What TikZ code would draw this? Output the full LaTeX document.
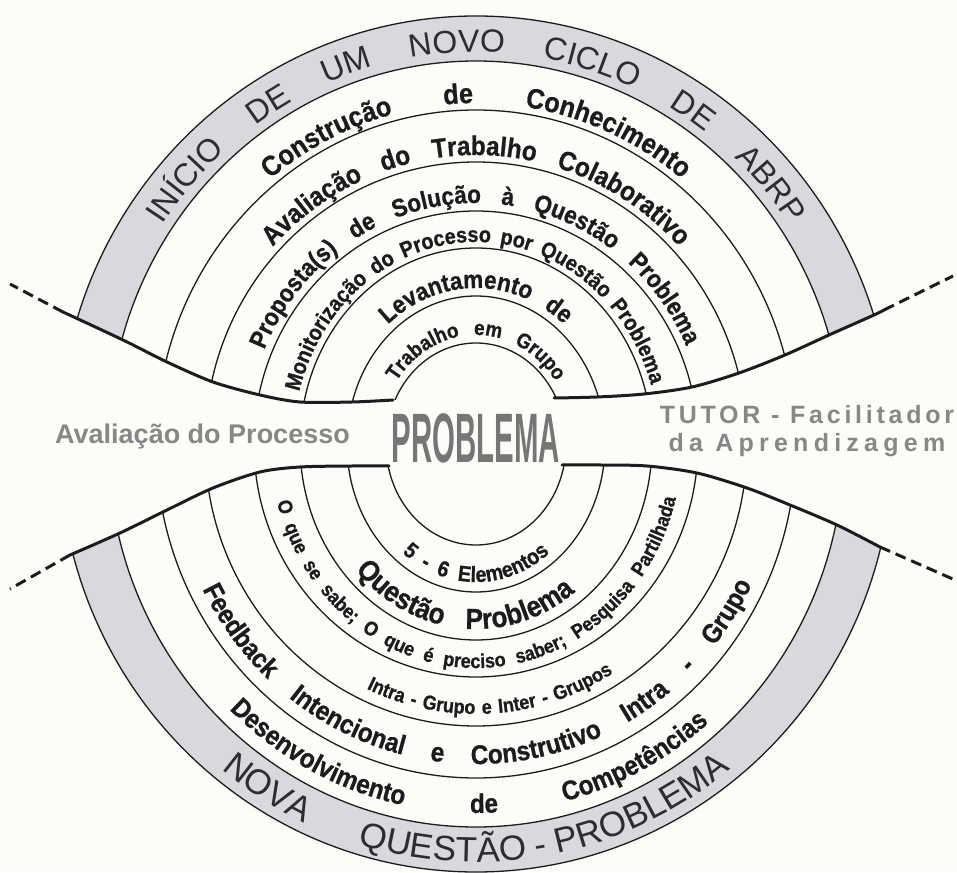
\documentclass[tikz,border=0pt]{standalone}
\usepackage{fontspec}
\usetikzlibrary{decorations.text}
\setmainfont{Liberation Sans}
\newfontfamily\outerfont{Liberation Sans}
\newfontfamily\ringfont[FakeStretch=0.9,FakeBold=0.8]{Liberation Sans}
\newfontfamily\tutorfontA[LetterSpace=15]{Liberation Sans}
\newfontfamily\tutorfontB[LetterSpace=21]{Liberation Sans}
\newfontfamily\probfont[FakeStretch=0.42]{Liberation Sans}
\definecolor{bgc}{RGB}{252,252,248}
\definecolor{band}{RGB}{217,217,221}
\definecolor{ink}{RGB}{28,28,30}
\definecolor{outink}{RGB}{45,45,48}
\definecolor{midgray}{RGB}{135,135,135}
\definecolor{probgray}{RGB}{118,118,118}

\newcommand{\fitarc}[6]{%
  \path[decorate,decoration={text along path,text align={fit to path stretching spaces},text color=ink,text={|#5|#6}}]
    ({#3*cos(#1)},{#4*sin(#1)}) arc[start angle=#1,end angle=#2,x radius=#3,y radius=#4];}
\newcommand{\centerarc}[6]{%
  \path[decorate,decoration={text along path,text align=center,text color=ink,text={|#5|#6}}]
    ({#3*cos(#1)},{#4*sin(#1)}) arc[start angle=#1,end angle=#2,x radius=#3,y radius=#4];}
\newcommand{\ringset}{%
  \fill[band,even odd rule] (0,0) ellipse[x radius=417,y radius=428] (0,0) ellipse[x radius=368,y radius=383];
  \foreach \ra/\rb in {417/428,368/383,320/334,271/282,222/233,176/196,129/148,90/101}{%
    \draw[ring] (0,0) ellipse[x radius=\ra,y radius=\rb];}}
\newcommand{\outerfs}[1]{\color{outink}\outerfont\fontsize{#1}{#1}\selectfont}
\newcommand{\bfs}[1]{\ringfont\bfseries\fontsize{#1}{#1}\selectfont}

\begin{document}
\begin{tikzpicture}[x=1pt,y=1pt,
  ring/.style={line width=1.3pt,draw=ink},
  cutline/.style={line width=3pt,draw=ink,line cap=round},
  cutdash/.style={line width=3pt,draw=ink,dash pattern=on 11pt off 6pt},
  midtext/.style={inner sep=0pt,text=midgray}]
\fill[bgc] (-476,-428) rectangle (481,444);
\useasboundingbox (-476,-428) rectangle (481,444);

% upper half rings
\begin{scope}
  \clip (-490,450) -- (-490,176) -- plot[smooth] coordinates {(-413,132) (-353,104) (-309,82) (-263,62) (-216,49) (-176,42) (-124,42) (-83,44)}
        -- plot[smooth] coordinates {(78,46) (121,47) (168,50) (216,57) (263,71) (309,89) (353,109) (398,129) (408,134)}
        -- (490,178) -- (490,450) -- cycle;
  \ringset
\end{scope}
% lower half rings
\begin{scope}
  \clip (-490,-450) -- (-490,-158) -- plot[smooth] coordinates {(-406,-111) (-356,-89) (-309,-66) (-263,-44) (-216,-28) (-176,-23) (-124,-22) (-87,-22)}
        -- plot[smooth] coordinates {(86,-21) (125,-21) (171,-22) (221,-29) (271,-44) (314,-61) (361,-81) (404,-103)}
        -- (490,-140) -- (490,-450) -- cycle;
  \ringset
\end{scope}

% cut lines
\coordinate (ulEnd) at (-413,132);
\coordinate (ulFar) at (-466,160);
\coordinate (urEnd) at (408,134);
\coordinate (urFar) at (477,168);
\coordinate (llEnd) at (-406,-111);
\coordinate (llFar) at (-466,-145);
\coordinate (lrEnd) at (404,-103);
\coordinate (lrFar) at (479,-136);
\draw[cutline] plot[smooth] coordinates {(-413,132) (-353,104) (-309,82) (-263,62) (-216,49) (-176,42) (-124,42) (-83,44)};
\draw[cutline] plot[smooth] coordinates {(78,46) (121,47) (168,50) (216,57) (263,71) (309,89) (353,109) (398,129) (408,134)};
\draw[cutline] plot[smooth] coordinates {(-406,-111) (-356,-89) (-309,-66) (-263,-44) (-216,-28) (-176,-23) (-124,-22) (-87,-22)};
\draw[cutline] plot[smooth] coordinates {(86,-21) (125,-21) (171,-22) (221,-29) (271,-44) (314,-61) (361,-81) (404,-103)};
\draw[cutdash] (ulEnd) -- (ulFar);
\draw[cutdash] (urEnd) -- (urFar);
\draw[cutdash] (llEnd) -- (llFar);
\draw[cutdash] (lrEnd) -- (lrFar);

% upper ring texts
\fitarc{146}{34}{378}{392}{\outerfs{32}}{INÍCIO DE UM NOVO CICLO DE ABRP}
\fitarc{129}{51}{327}{341}{\bfs{28}}{Construção de Conhecimento}
\fitarc{137}{43}{278}{289}{\bfs{27}}{Avaliação do Trabalho Colaborativo}
\fitarc{157}{24}{230}{241}{\bfs{25}}{Proposta(s) de Solução à Questão Problema}
\fitarc{165}{17}{183}{202}{\bfs{22}}{Monitorização do Processo por Questão Problema}
\fitarc{130}{50}{137}{156}{\bfs{25}}{Levantamento de}
\fitarc{145}{35}{97}{109}{\bfs{21}}{Trabalho em Grupo}

% lower ring texts
\centerarc{225}{251}{405}{418}{\outerfs{35}}{NOVA}
\centerarc{248}{314}{405}{418}{\outerfs{35}}{QUESTÃO - PROBLEMA}
\fitarc{226}{311}{355}{369}{\bfs{27}}{Desenvolvimento de Competências}
\fitarc{207}{334}{307}{320}{\bfs{27}}{Feedback Intencional e Construtivo Intra - Grupo}
\fitarc{245}{302}{259}{270}{\bfs{20}}{Intra - Grupo e Inter - Grupos}
\fitarc{195}{346}{206}{224}{\bfs{20}}{O que se sabe; O que é preciso saber; Pesquisa Partilhada}
\fitarc{223}{307}{165}{185}{\bfs{29}}{Questão Problema}
\fitarc{232}{308}{120}{138}{\bfs{22}}{5 - 6 Elementos}

% middle band texts
\node[midtext,font=\outerfont\bfseries\fontsize{27}{27}\selectfont,anchor=base west] (aval) at (-421,1) {Avaliação do Processo};
\node[midtext,font=\tutorfontA\bfseries\fontsize{25}{25}\selectfont,anchor=base] (tutorA) at (331,20) {TUTOR - Facilitador};
\node[midtext,font=\tutorfontB\bfseries\fontsize{25}{25}\selectfont,anchor=base] (tutorB) at (331,-8) {da Aprendizagem};
\node[inner sep=0pt,text=probgray,font=\probfont\bfseries\fontsize{70}{70}\selectfont,anchor=base] (prob) at (0,-18) {PROBLEMA};
\end{tikzpicture}
\end{document}
